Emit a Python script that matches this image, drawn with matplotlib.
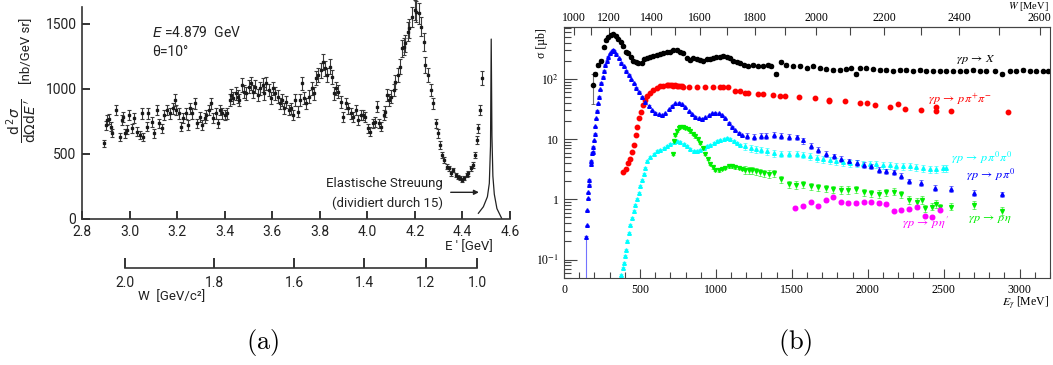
import numpy as np
import matplotlib
matplotlib.use("Agg")
import matplotlib.pyplot as plt
from matplotlib.colors import to_rgba
from matplotlib.ticker import FixedLocator, FixedFormatter, LogLocator, NullFormatter

# ---------------- (a) inclusive e-p spectrum ----------------
# E' [GeV] and d2sigma/dOmega dE' [nb/GeV sr]
e_prime = [2.893, 2.899, 2.906, 2.913, 2.920, 2.927, 2.944, 2.958, 2.967, 2.974,
           2.981, 2.988, 2.999, 3.009, 3.019, 3.030, 3.044, 3.051, 3.058, 3.072,
           3.079, 3.093, 3.104, 3.114, 3.125, 3.135, 3.144, 3.156, 3.170, 3.181,
           3.191, 3.197, 3.209, 3.218, 3.225, 3.239, 3.246, 3.253, 3.264, 3.274,
           3.284, 3.295, 3.306, 3.316, 3.323, 3.334, 3.344, 3.351, 3.365, 3.372,
           3.379, 3.390, 3.400, 3.409, 3.421, 3.428, 3.435, 3.446, 3.456, 3.462,
           3.474, 3.483, 3.490, 3.502, 3.511, 3.518, 3.529, 3.539, 3.549, 3.560,
           3.567, 3.574, 3.585, 3.595, 3.602, 3.613, 3.623, 3.633, 3.641, 3.651,
           3.658, 3.669, 3.679, 3.686, 3.697, 3.707, 3.716, 3.727, 3.734, 3.744,
           3.755, 3.767, 3.776, 3.783, 3.794, 3.804, 3.814, 3.822, 3.832, 3.842,
           3.850, 3.860, 3.870, 3.878, 3.888, 3.899, 3.909, 3.920, 3.930, 3.939,
           3.951, 3.962, 3.972, 3.981, 3.992, 4.004, 4.013, 4.023, 4.032, 4.041,
           4.051, 4.059, 4.069, 4.076, 4.083, 4.093, 4.101, 4.111, 4.118, 4.129,
           4.139, 4.146, 4.153, 4.160, 4.171, 4.177, 4.188, 4.199, 4.206, 4.216,
           4.227, 4.237, 4.244, 4.255, 4.267, 4.277, 4.288, 4.297, 4.306, 4.316,
           4.324, 4.334, 4.344, 4.352, 4.362, 4.372, 4.380, 4.390, 4.400, 4.408,
           4.418, 4.425, 4.436, 4.446, 4.453, 4.460, 4.467, 4.474, 4.483]
xsec = [581, 720, 760, 770, 710, 660, 837, 632, 760, 786,
        658, 684, 800, 696, 773, 670, 645, 811, 632, 709,
        811, 747, 658, 837, 735, 696, 800, 837, 811, 850,
        914, 837, 811, 709, 773, 811, 722, 850, 811, 888,
        735, 786, 722, 773, 800, 837, 888, 773, 811, 735,
        837, 811, 800, 811, 914, 952, 927, 965, 940, 914,
        1029, 978, 965, 1016, 1042, 978, 1016, 952, 1004, 1029,
        965, 1042, 991, 927, 1004, 965, 940, 888, 914, 850,
        901, 837, 850, 800, 914, 824, 914, 1042, 927, 888,
        940, 1004, 965, 1080, 1106, 1144, 1208, 1157, 1106, 1170,
        1093, 965, 1004, 978, 901, 786, 888, 850, 811, 786,
        837, 760, 800, 800, 786, 696, 670, 735, 747, 863,
        735, 709, 800, 824, 952, 914, 940, 991, 1055, 1106,
        1170, 1311, 1324, 1349, 1439, 1464, 1554, 1605, 1592, 1580,
        1477, 1362, 1183, 1106, 991, 888, 735, 658, 568, 492,
        453, 402, 389, 351, 376, 338, 325, 312, 300, 312,
        338, 351, 389, 415, 492, 607, 696, 837, 1080]
rel_err_a = 0.05

# elastic peak (divided by 15)
peak_e = [4.467, 4.488, 4.505, 4.513, 4.518, 4.521, 4.524, 4.528, 4.534, 4.545, 4.565]
peak_v = [44, 94, 171, 274, 560, 1382, 640, 330, 190, 80, 5]

E_beam = 4.879
theta_deg = 10.0
M_p = 0.938
W_ticks = [2.0, 1.8, 1.6, 1.4, 1.2, 1.0]

# ---------------- (b) photoproduction cross sections ----------------
# (E_gamma [MeV], sigma [mub])
total_pts = [(189, 79), (204, 121), (226, 171), (241, 200), (263, 333), (274, 435), (292, 495),
             (309, 541), (325, 555), (342, 521), (357, 458), (375, 403), (390, 346), (408, 285),
             (423, 268), (439, 230), (456, 202), (474, 194), (489, 183), (511, 187), (529, 213),
             (548, 221), (566, 235), (588, 242), (610, 251), (632, 258), (654, 268), (675, 275),
             (697, 285), (719, 297), (741, 304), (763, 285), (785, 268), (807, 221), (829, 207),
             (851, 221), (873, 213), (895, 207), (917, 202), (939, 213), (961, 213), (982, 221),
             (1004, 230), (1026, 235), (1048, 242), (1070, 235), (1092, 221), (1114, 202),
             (1136, 194), (1158, 183), (1184, 171), (1213, 161), (1246, 171), (1279, 161),
             (1311, 165), (1344, 171), (1366, 161), (1399, 121), (1432, 194), (1465, 171),
             (1509, 161), (1553, 165), (1597, 151), (1640, 161), (1684, 151), (1728, 145),
             (1772, 141), (1816, 141), (1860, 145), (1893, 151), (1921, 121), (1947, 151),
             (1991, 151), (2035, 145), (2079, 141), (2123, 141), (2167, 138), (2211, 141),
             (2254, 141), (2298, 138), (2342, 141), (2386, 138), (2430, 138), (2474, 138),
             (2518, 138), (2561, 134), (2605, 134), (2649, 138), (2693, 141), (2737, 138),
             (2781, 138), (2836, 138), (2886, 121), (2934, 138), (2978, 138), (3022, 141),
             (3066, 138), (3110, 134), (3154, 134), (3186, 134)]

pipi_pts = [(390, 2.86), (408, 3.24), (423, 4.03), (434, 4.76), (445, 6.15), (461, 7.94),
            (471, 11.7), (482, 16.1), (493, 22.1), (504, 28.5), (518, 36.9), (533, 44.7),
            (548, 52.7), (566, 59.2), (588, 65.6), (610, 71.7), (632, 75.5), (654, 77.4),
            (675, 78.4), (686, 78.0), (697, 78.4), (708, 78.0), (719, 77.4), (730, 77.8),
            (741, 77.4), (752, 77.0), (763, 76.5), (774, 75.0), (785, 72.6), (825, 72.6),
            (873, 74.5), (928, 74.5), (982, 72.6), (1026, 72.6), (1048, 73.5), (1081, 72.6),
            (1125, 63.9), (1158, 62.3), (1191, 59.2), (1213, 57.7), (1279, 56.2), (1311, 56.2),
            (1377, 54.1), (1421, 52.7), (1454, 52.7), (1548, 50.9), (1654, 47.9), (1748, 44.9),
            (1748, 42.5), (1851, 43.1), (1947, 39.5), (1995, 39.5), (2050, 36.6), (2149, 33.9),
            (2200, 38.5), (2248, 32.2), (2349, 30.6), (2448, 34.6), (2448, 29.3), (2547, 29.5),
            (2924, 28.4)]

pi0_pts = [(145, 0.24), (150, 0.37), (154, 0.66), (156, 1.04), (161, 1.32), (165, 1.76),
           (167, 2.13), (176, 3.93), (178, 4.35), (183, 5.9), (189, 6.15), (194, 7.45),
           (198, 9.6), (202, 12.4), (207, 16.5), (211, 22.1), (216, 29.6), (222, 39.3),
           (229, 50.8), (238, 67.3), (246, 86.9), (255, 109), (264, 138), (273, 171),
           (282, 202), (293, 235), (304, 268), (315, 293), (321, 304), (330, 293), (343, 261),
           (359, 221), (374, 187), (392, 161), (409, 136), (425, 117), (440, 98.7), (458, 84.7),
           (475, 71.7), (491, 61.5), (513, 50.8), (535, 41.9), (557, 35.5), (579, 30.4),
           (601, 27.5), (623, 25.8), (645, 25.1), (667, 26.8), (689, 31.2), (711, 36.0),
           (733, 39.3), (755, 40.3), (777, 38.3), (799, 33.7), (821, 29.3), (843, 26.1),
           (865, 23.5), (887, 22.1), (909, 21.8), (931, 23.0), (953, 25.1), (975, 26.8),
           (997, 27.5), (1019, 26.8), (1041, 25.1), (1063, 22.1), (1085, 18.7), (1107, 16.1),
           (1129, 14.1), (1151, 12.8), (1173, 11.7), (1206, 11.2), (1250, 10.9), (1294, 11.2),
           (1333, 11.2), (1382, 11.7), (1426, 11.2), (1481, 10.9), (1536, 10.7), (1575, 9.5),
           (1625, 7.76), (1673, 6.66), (1723, 5.71), (1777, 5.16), (1827, 4.67), (1877, 4.27),
           (1926, 4.0), (1976, 3.76), (2024, 3.52), (2075, 3.1), (2123, 2.91), (2173, 2.8),
           (2222, 2.47), (2272, 1.99), (2349, 1.87), (2445, 1.57), (2546, 1.49), (2700, 1.27),
           (2886, 1.21)]

pi0pi0_pts = [(378, 0.056), (387, 0.0726), (396, 0.0879), (403, 0.113), (409, 0.146), (418, 0.200),
              (425, 0.276), (436, 0.379), (447, 0.49), (458, 0.63), (469, 0.813), (480, 1.01),
              (491, 1.27), (502, 1.64), (513, 2.11), (524, 2.66), (535, 3.3), (546, 4.3),
              (568, 5.1), (590, 5.7), (612, 6.25), (634, 6.66), (656, 7.1), (678, 7.56),
              (700, 8.37), (722, 8.81), (744, 9.15), (766, 8.81), (788, 8.37), (810, 7.56),
              (832, 6.82), (854, 6.25), (876, 6.25), (898, 6.66), (920, 7.1), (942, 7.56),
              (964, 8.05), (986, 8.58), (1008, 9.15), (1030, 9.5), (1052, 10.0), (1074, 10.4),
              (1096, 10.0), (1118, 9.15), (1140, 8.58), (1162, 8.05), (1195, 7.56), (1228, 7.1),
              (1261, 6.82), (1294, 6.66), (1338, 6.25), (1382, 5.86), (1426, 5.71), (1481, 5.71),
              (1531, 5.71), (1575, 5.5), (1619, 5.16), (1663, 4.84), (1706, 4.67), (1750, 4.43),
              (1794, 4.27), (1838, 4.1), (1882, 4.0), (1926, 4.0), (1970, 3.9), (2014, 3.8),
              (2057, 3.8), (2101, 3.7), (2145, 3.7), (2189, 3.61), (2233, 3.52), (2276, 3.52),
              (2320, 3.44), (2364, 3.31), (2408, 3.18), (2452, 3.18), (2496, 3.27), (2518, 3.31)]

eta_pts = [(715, 5.71), (722, 9.15), (733, 11.8), (744, 13.9), (755, 15.6), (766, 16.2),
           (783, 16.2), (799, 15.6), (814, 14.7), (832, 13.4), (849, 12.2), (865, 11.1),
           (880, 10.0), (898, 8.58), (915, 7.1), (931, 5.71), (946, 4.67), (964, 3.9),
           (981, 3.39), (997, 3.1), (1019, 3.03), (1041, 3.18), (1063, 3.31), (1085, 3.52),
           (1107, 3.52), (1129, 3.39), (1151, 3.31), (1173, 3.18), (1195, 3.1), (1217, 3.03),
           (1239, 3.03), (1261, 2.91), (1289, 2.8), (1316, 2.73), (1349, 2.66), (1382, 2.73),
           (1430, 2.17), (1480, 1.79), (1526, 1.75), (1574, 1.79), (1625, 1.64), (1673, 1.6),
           (1722, 1.54), (1772, 1.48), (1823, 1.44), (1871, 1.44), (1921, 1.48), (1974, 1.3),
           (2024, 1.27), (2072, 1.24), (2123, 1.3), (2173, 1.35), (2222, 1.22), (2272, 0.98),
           (2321, 0.92), (2354, 0.98), (2376, 0.72), (2426, 0.76), (2452, 0.85), (2474, 0.74),
           (2551, 0.76), (2700, 0.81), (2886, 0.65)]

etap_pts = [(1524, 0.73), (1574, 0.78), (1625, 0.90), (1673, 0.78), (1725, 0.96), (1772, 1.09),
            (1823, 0.89), (1871, 0.87), (1921, 0.87), (1974, 0.89), (2024, 0.89), (2072, 0.87),
            (2123, 0.85), (2173, 0.65), (2222, 0.67), (2272, 0.69), (2321, 0.74), (2376, 0.52),
            (2426, 0.51), (2474, 0.67)]

M_p_mev = 938.27

sans = ["Roboto", "DejaVu Sans"]
serif = ["Liberation Serif", "DejaVu Serif"]
plt.rcParams["font.family"] = sans
plt.rcParams["mathtext.fontset"] = "stix"

W_PX, H_PX = 1053, 365
fig = plt.figure(figsize=(W_PX / 100, H_PX / 100), dpi=100)


def fx(px):
    return px / W_PX


def fy(py):
    return 1 - py / H_PX


# ---------- panel (a) ----------
ax_a = fig.add_axes([fx(82), fy(219), fx(428), (219 - 7.3) / H_PX])
xs = np.array(xsec, dtype=float)
ax_a.errorbar(e_prime, xs, yerr=xs * rel_err_a, fmt="s", ms=1.9, color="#1a1a1a",
              ecolor="#3a3a3a", elinewidth=0.8, capsize=1.3, capthick=0.8, clip_on=False)
ax_a.plot(peak_e, peak_v, color="#222222", lw=0.9)
ax_a.set_xlim(2.8, 4.6)
ax_a.set_ylim(0, 1626)
ax_a.set_xticks(np.round(np.arange(2.8, 4.61, 0.2), 1))
ax_a.set_xticklabels([f"{v:.1f}" for v in np.arange(2.8, 4.61, 0.2)])
ax_a.set_yticks([0, 500, 1000, 1500])
for s in ["top", "right"]:
    ax_a.spines[s].set_visible(False)
for s in ["left", "bottom"]:
    ax_a.spines[s].set_linewidth(1.2)
    ax_a.spines[s].set_color("#333333")
ax_a.tick_params(axis="x", direction="in", length=6, width=1.4, color="#333333",
                 labelsize=10, pad=4.3, labelcolor="#222222")
ax_a.tick_params(axis="y", direction="in", length=6, width=1.4, color="#333333",
                 labelsize=10, pad=4.0, labelcolor="#222222")

ax_a.text(3.094, 1436, r"$E$ =4.879  GeV", fontsize=10, va="center", color="#222222",
          math_fontfamily="dejavusans")
ax_a.text(3.094, 1283, "θ=10°", fontsize=10, va="center", color="#222222")
ax_a.text(4.316, 276, "Elastische Streuung", fontsize=9.5, ha="right", va="center", color="#222222")
ax_a.text(4.318, 123, "(dividiert durch 15)", fontsize=9.5, ha="right", va="center", color="#222222")
ax_a.annotate("", xy=(4.481, 205), xytext=(4.339, 205),
              arrowprops=dict(arrowstyle="-|>", lw=1.0, color="#222222", mutation_scale=7))

fig.text(fx(493), fy(246.7), "E ' [GeV]", fontsize=9.5, ha="right", va="center", color="#222222")
fig.text(fx(22), fy(121), r"$\dfrac{\mathrm{d}^{\,2}\sigma}{\mathrm{d}\Omega\mathrm{d}E^{\,\prime}}$",
         rotation=90, fontsize=10, ha="center", va="center", color="#222222",
         math_fontfamily="dejavusans")
fig.text(fx(27), fy(51), "[nb/GeV sr]", rotation=90, fontsize=9.5, ha="center", va="center",
         color="#222222")

# W scale under panel (a)
sin2 = np.sin(np.radians(theta_deg) / 2) ** 2


def eprime_of_w(w):
    return (M_p ** 2 + 2 * M_p * E_beam - w ** 2) / (2 * M_p + 4 * E_beam * sin2)


ax_w = fig.add_axes([fx(82), fy(268), fx(428), 0.001])
ax_w.set_xlim(2.8, 4.6)
ax_w.patch.set_visible(False)
for s in ["top", "right", "left"]:
    ax_w.spines[s].set_visible(False)
ax_w.spines["bottom"].set_bounds(eprime_of_w(W_ticks[0]), eprime_of_w(W_ticks[-1]))
ax_w.spines["bottom"].set_linewidth(1.2)
ax_w.spines["bottom"].set_color("#333333")
ax_w.set_yticks([])
ax_w.set_xticks([eprime_of_w(w) for w in W_ticks])
ax_w.set_xticklabels([f"{w:.1f}" for w in W_ticks])
ax_w.tick_params(axis="x", direction="in", length=7, width=1.4, color="#333333",
                 labelsize=10, pad=6.0, labelcolor="#222222")
fig.text(fx(138), fy(297), "W  [GeV/c²]", fontsize=9.5, ha="left", va="center", color="#222222")

# ---------- panel (b) ----------
ax_b = fig.add_axes([fx(564), fy(277.7), fx(486), 250.4 / H_PX])
ax_b.set_yscale("log")

series = [
    (total_pts, "#000000", "o", 3.0, 0.06),
    (pipi_pts, "#ff0000", "o", 3.2, 0.03),
    (pi0pi0_pts, "#00ffff", "^", 2.6, 0.04),
    (pi0_pts, "#0000ff", "^", 2.6, 0.02),
    (eta_pts, "#00ee00", "v", 2.8, 0.05),
    (etap_pts, "#ff00ff", "o", 3.3, 0.06),
]
for pts, col, mk, ms, rel in series:
    arr = np.array(pts, dtype=float)
    e, s = arr[:, 0], arr[:, 1]
    rel_arr = np.where(e > 1180, rel + 0.09, rel) if mk != "o" else np.full(len(e), rel)
    err_lo = s * rel_arr
    err_hi = s * rel_arr
    if pts is pi0_pts:
        err_lo[0] = s[0] - 0.01
    if pts is total_pts:
        err_lo[0] = 40
        err_hi[0] = 40
    ax_b.errorbar(e, s, yerr=[err_lo, err_hi], fmt=mk, ms=ms, color=col, mec=col,
                  ecolor=to_rgba(col, 0.55), elinewidth=0.8, capsize=1.2, capthick=0.7)

ax_b.set_xlim(0, 3200)
ax_b.set_ylim(0.05, 720)
ax_b.xaxis.set_major_locator(FixedLocator(np.arange(0, 3001, 500)))
ax_b.xaxis.set_minor_locator(FixedLocator(np.arange(100, 3201, 100)))
ax_b.yaxis.set_major_locator(FixedLocator([0.1, 1, 10, 100]))
ax_b.yaxis.set_major_formatter(FixedFormatter([r"$10^{-1}$", "1", "10", r"$10^{2}$"]))
ax_b.yaxis.set_minor_locator(LogLocator(base=10, subs=np.arange(2, 10)))
ax_b.yaxis.set_minor_formatter(NullFormatter())
ax_b.tick_params(which="both", direction="in", top=False, right=False, color="#444444",
                 labelsize=8.5, width=0.8)
ax_b.tick_params(axis="x", which="major", length=6.5, pad=4.3)
ax_b.tick_params(axis="x", which="minor", length=4.3)
ax_b.tick_params(axis="y", which="major", length=9.4, pad=3.6)
ax_b.tick_params(axis="y", which="minor", length=5)
for sp in ax_b.spines.values():
    sp.set_linewidth(0.8)
    sp.set_color("#444444")


def e_to_w(e):
    return np.sqrt(np.clip(M_p_mev ** 2 + 2 * M_p_mev * np.asarray(e, dtype=float), 1, None))


def w_to_e(w):
    w = np.asarray(w, dtype=float)
    return (w ** 2 - M_p_mev ** 2) / (2 * M_p_mev)


sec = ax_b.secondary_xaxis("top", functions=(e_to_w, w_to_e))
sec.xaxis.set_major_locator(FixedLocator(np.arange(1000, 2601, 200)))
sec.xaxis.set_minor_locator(FixedLocator(np.arange(1100, 2601, 200)))
sec.tick_params(which="both", direction="in", length=5.5, width=0.8, color="#444444",
                labelsize=8.5, pad=2.5)
sec.spines["top"].set_linewidth(0.8)
sec.spines["top"].set_color("#444444")

for lbl in (ax_b.get_xticklabels() + ax_b.get_yticklabels() + sec.xaxis.get_ticklabels()):
    lbl.set_fontfamily(serif)

fig.text(fx(541.7), fy(28), "σ [µb]", rotation=90, fontsize=8.5, ha="center", va="top",
         family=serif)
fig.text(fx(1049), fy(303), r"$E_{\gamma}$ [MeV]", fontsize=8.5, ha="right", va="center",
         family=serif)
fig.text(fx(1049), 0.9995, r"$W$ [MeV]", fontsize=7.5, ha="right", va="top", family=serif)

lab_size = 8.8
ax_b.text(2583, 207, r"$\gamma p\,\rightarrow\,X$", color="#000000", fontsize=lab_size, va="center")
ax_b.text(2396, 46, r"$\gamma p\,\rightarrow\,p\,\pi^{+}\pi^{-}$", color="#ff0000", fontsize=lab_size, va="center")
ax_b.text(2551, 4.9, r"$\gamma p\,\rightarrow\,p\,\pi^{0}\pi^{0}$", color="#00ffff", fontsize=lab_size, va="center")
ax_b.text(2649, 2.6, r"$\gamma p\,\rightarrow\,p\,\pi^{0}$", color="#0000ff", fontsize=lab_size, va="center")
ax_b.text(2660, 0.49, r"$\gamma p\,\rightarrow\,p\,\eta$", color="#00ee00", fontsize=lab_size, va="center")
ax_b.text(2228, 0.405, r"$\gamma p\,\rightarrow\,p\,\eta'$", color="#ff00ff", fontsize=lab_size, va="center")

# panel letters
fig.text(fx(263), fy(342), r"$\mathrm{(a)}$", fontsize=19, ha="center", va="center",
         math_fontfamily="cm")
fig.text(fx(795), fy(342), r"$\mathrm{(b)}$", fontsize=19, ha="center", va="center",
         math_fontfamily="cm")

fig.savefig("out.png", dpi=100)
